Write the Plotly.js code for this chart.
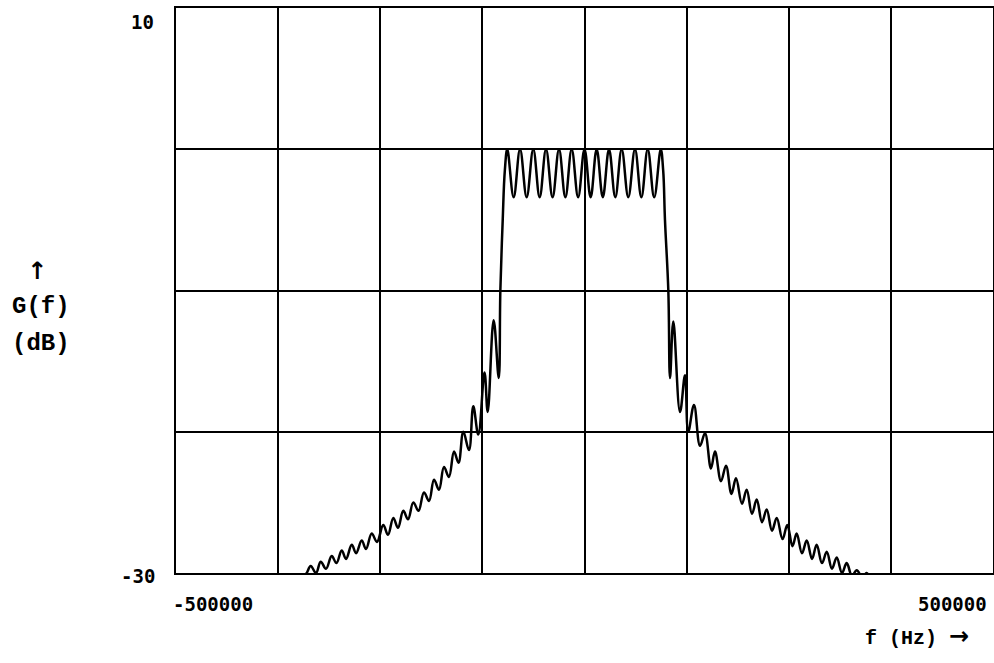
<!DOCTYPE html>
<html>
<head>
<meta charset="utf-8">
<script src="https://cdn.plot.ly/plotly-3.0.1.min.js"></script>
<style>html,body{margin:0;padding:0;background:#fff;}#chart{width:994px;height:663px;}</style>
</head>
<body>
<div id="chart"></div>
<script>
// Frequency (Hz) of read-off points, left to right
const freqLeftSkirt = [-345000,-340000,-335100,-328600,-322900,-316400,-309400,-303600,-297200,-291900,-284900,-279600,-272700,-267400,-260500,-254000,-246300,-240500,-234000,-228300,-221800,-216000,-209500,-203200,-196500,-190300,-184200,-178100,-172000,-165900,-159700,-154200,-148300,-141400,-136100,-130000,-122400,-118500,-111200,-105000,-103000,-100100,-97500];
const gainLeftSkirt = [-30.4,-30.0,-29.5,-30.0,-29.2,-29.7,-28.8,-29.3,-28.4,-29.0,-28.0,-28.6,-27.7,-28.3,-27.2,-27.8,-26.6,-27.3,-26.1,-26.8,-25.6,-26.2,-25.0,-25.6,-24.3,-24.9,-23.4,-24.1,-22.5,-23.2,-21.4,-22.2,-20.0,-21.3,-18.2,-20.2,-15.8,-18.6,-12.1,-16.2,-10.0,-5.0,-1.5];

const freqPassband = [-94500,-86700,-78900,-70800,-62700,-54900,-47100,-39100,-31200,-23400,-15700,-7800,0,7500,14900,22400,30000,37700,45500,53600,61800,69600,77400,85300,93300];
const gainPassband = [0,-3.4,0,-3.4,0,-3.4,0,-3.4,0,-3.4,0,-3.4,0,-3.4,0,-3.4,0,-3.4,0,-3.4,0,-3.4,0,-3.4,0];

const freqRightSkirt = [96300,98500,102600,104700,108700,116900,123000,127000,134000,141400,147500,154800,159700,167100,173200,179900,185400,192800,198500,205000,210800,217300,223000,229500,235300,242400,248200,254600,259700,266200,272000,278500,284200,290700,296500,302900,308700,315200,320900,327400,333200,340000,345400,350000];
const gainRightSkirt = [-1.5,-5.0,-10.0,-16.2,-12.2,-18.6,-16.0,-20.0,-18.1,-21.0,-20.1,-22.6,-21.4,-23.5,-22.4,-24.4,-23.3,-25.1,-24.1,-25.8,-24.8,-26.4,-25.5,-27.0,-26.1,-27.6,-26.6,-28.1,-27.2,-28.6,-27.7,-29.0,-28.0,-29.3,-28.5,-29.7,-28.9,-30.0,-29.3,-30.2,-29.8,-30.3,-30.0,-30.5];

const yTickLabels = ["10", "-30"];
const xTickLabels = ["-500000", "500000"];

const freq = freqLeftSkirt.concat(freqPassband, freqRightSkirt);
const gain = gainLeftSkirt.concat(gainPassband, gainRightSkirt);

const lblFont = {family: "DejaVu Sans Mono, Liberation Mono, monospace", size: 19, color: "#000", weight: "bold"};
const titleFont = {family: "Liberation Mono, DejaVu Sans Mono, monospace", size: 24, color: "#000", weight: "bold"};

const trace = {
  x: freq, y: gain, type: "scatter", mode: "lines",
  line: {color: "#000", width: 2.5, shape: "spline", smoothing: 1.1},
  hoverinfo: "skip"
};

const layout = {
  width: 994, height: 663,
  margin: {l: 176, r: 1, t: 8, b: 90, pad: 0},
  paper_bgcolor: "#fff", plot_bgcolor: "#fff",
  showlegend: false,
  xaxis: {
    range: [-500000, 500000], tick0: -500000, dtick: 125000,
    showgrid: true, gridcolor: "#000", gridwidth: 2,
    zeroline: false, showline: true, mirror: true, linecolor: "#000", linewidth: 2,
    showticklabels: false, ticks: "", fixedrange: true
  },
  yaxis: {
    range: [-30, 10], tick0: -30, dtick: 10,
    showgrid: true, gridcolor: "#000", gridwidth: 2,
    zeroline: false, showline: true, mirror: true, linecolor: "#000", linewidth: 2,
    showticklabels: false, ticks: "", fixedrange: true
  },
  annotations: [
    {text: yTickLabels[0], xref: "paper", yref: "paper", x: 0, y: 1, xanchor: "right", yanchor: "middle", xshift: -20, yshift: -14, showarrow: false, font: lblFont},
    {text: yTickLabels[1], xref: "paper", yref: "paper", x: 0, y: 0, xanchor: "right", yanchor: "middle", xshift: -19, yshift: -3, showarrow: false, font: lblFont},
    {text: xTickLabels[0], xref: "paper", yref: "paper", x: 0, y: 0, xanchor: "left", yanchor: "middle", xshift: -5, yshift: -31, showarrow: false, font: lblFont},
    {text: xTickLabels[1], xref: "paper", yref: "paper", x: 1, y: 0, xanchor: "right", yanchor: "middle", xshift: -4, yshift: -31, showarrow: false, font: lblFont},
    {text: "f (Hz) <span style='font-family:DejaVu Sans;font-size:24px'>\u2192</span>", xref: "paper", yref: "paper", x: (917-176)/817, y: 0, xanchor: "center", yanchor: "middle", yshift: -63, showarrow: false, font: {family: "Liberation Mono, monospace", size: 20, color: "#000", weight: "bold"}},
    {text: "\u2191", xref: "paper", yref: "paper", x: (37-176)/817, y: (573-271)/565, xanchor: "center", yanchor: "middle", showarrow: false, font: {family: "DejaVu Sans, sans-serif", size: 24, color: "#000", weight: "bold"}},
    {text: "G(f)", xref: "paper", yref: "paper", x: (41-176)/817, y: (573-306)/565, xanchor: "center", yanchor: "middle", showarrow: false, font: titleFont},
    {text: "(dB)", xref: "paper", yref: "paper", x: (41-176)/817, y: (573-343)/565, xanchor: "center", yanchor: "middle", showarrow: false, font: titleFont}
  ]
};

Plotly.newPlot("chart", [trace], layout, {staticPlot: true, displayModeBar: false});
</script>
</body>
</html>
